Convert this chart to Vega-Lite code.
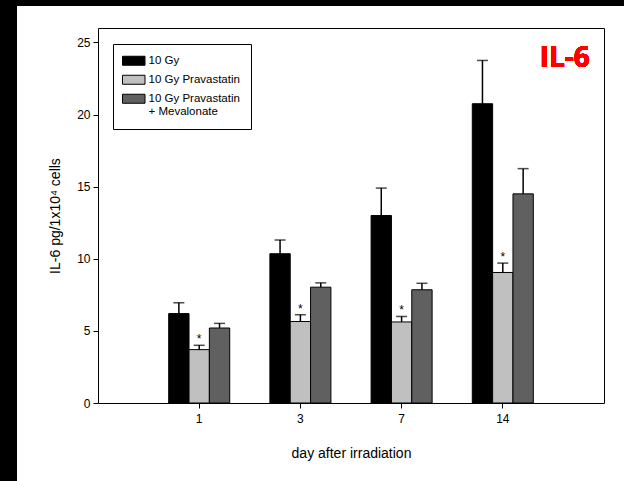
{
  "$schema": "https://vega.github.io/schema/vega-lite/v6.json",
  "width": 607,
  "height": 475,
  "autosize": {"type": "none"},
  "padding": {"left": 17, "top": 6, "right": 0, "bottom": 0},
  "background": "black",
  "config": {
    "view": {"stroke": null, "fill": "white"},
    "font": "Liberation Sans",
    "axis": {"grid": false, "domainColor": "black", "tickColor": "black", "labelColor": "black", "titleColor": "black", "labelFont": "Liberation Sans", "titleFont": "Liberation Sans", "labelFontSize": 12, "titleFontSize": 14, "titleFontWeight": "normal", "domainWidth": 1, "tickWidth": 1}
  },
  "data": {"values": [
    {"day": "1", "group": "10 Gy", "value": 6.2, "upper": 6.95, "sig": ""},
    {"day": "1", "group": "10 Gy Pravastatin", "value": 3.7, "upper": 4.0, "sig": "*"},
    {"day": "1", "group": "10 Gy Pravastatin + Mevalonate", "value": 5.2, "upper": 5.52, "sig": ""},
    {"day": "3", "group": "10 Gy", "value": 10.35, "upper": 11.3, "sig": ""},
    {"day": "3", "group": "10 Gy Pravastatin", "value": 5.65, "upper": 6.12, "sig": "*"},
    {"day": "3", "group": "10 Gy Pravastatin + Mevalonate", "value": 8.03, "upper": 8.33, "sig": ""},
    {"day": "7", "group": "10 Gy", "value": 13.0, "upper": 14.9, "sig": ""},
    {"day": "7", "group": "10 Gy Pravastatin", "value": 5.62, "upper": 6.0, "sig": "*"},
    {"day": "7", "group": "10 Gy Pravastatin + Mevalonate", "value": 7.85, "upper": 8.3, "sig": ""},
    {"day": "14", "group": "10 Gy", "value": 20.75, "upper": 23.75, "sig": ""},
    {"day": "14", "group": "10 Gy Pravastatin", "value": 9.05, "upper": 9.7, "sig": "*"},
    {"day": "14", "group": "10 Gy Pravastatin + Mevalonate", "value": 14.5, "upper": 16.25, "sig": ""}
  ]},
  "resolve": {"axis": {"x": "independent", "y": "independent"}},
  "layer": [
    {
      "mark": {"type": "bar", "stroke": "black", "strokeWidth": 1},
      "encoding": {
        "x": {"field": "day", "type": "nominal", "sort": ["1", "3", "7", "14"],
          "scale": {"range": [81, 587], "paddingInner": 0.397, "paddingOuter": 0.6985},
          "axis": {"orient": "bottom", "offset": -78, "title": "day after irradiation", "labelAngle": 0, "tickSize": 5, "labelPadding": 5, "titlePadding": 22}},
        "xOffset": {"field": "group", "type": "nominal", "sort": ["10 Gy", "10 Gy Pravastatin", "10 Gy Pravastatin + Mevalonate"], "scale": {"paddingInner": 0, "paddingOuter": 0}},
        "y": {"field": "value", "type": "quantitative",
          "scale": {"domain": [0, 26], "range": [397, 22], "nice": false, "zero": true},
          "axis": {"orient": "left", "offset": -81, "values": [0, 5, 10, 15, 20, 25], "title": "IL-6 pg/1x10⁴ cells", "tickSize": 5, "labelPadding": 3, "titlePadding": 14}},
        "color": {"field": "group", "type": "nominal",
          "scale": {"domain": ["10 Gy", "10 Gy Pravastatin", "10 Gy Pravastatin + Mevalonate"], "range": ["#000000", "#c0c0c0", "#606060"]},
          "legend": {"orient": "none", "legendX": 96, "legendY": 38, "title": null, "strokeColor": "black", "fillColor": "white", "padding": 11,
            "symbolType": "M-2.5,-1H2.5V1H-2.5Z", "symbolSize": 81, "symbolOffset": 4, "symbolStrokeColor": "black", "symbolStrokeWidth": 1,
            "labelFont": "Liberation Sans", "labelFontSize": 11.5, "labelColor": "black", "labelOffset": 9, "rowPadding": 5,
            "labelExpr": "datum.label == '10 Gy Pravastatin + Mevalonate' ? ['10 Gy Pravastatin', '+ Mevalonate'] : datum.label"}}
      }
    },
    {
      "mark": {"type": "rule", "color": "black", "strokeWidth": 1.5},
      "encoding": {
        "x": {"field": "day", "type": "nominal", "sort": ["1", "3", "7", "14"],
          "axis": {"orient": "top", "offset": -22, "labels": false, "ticks": false, "title": null, "domain": true}},
        "xOffset": {"field": "group", "type": "nominal", "sort": ["10 Gy", "10 Gy Pravastatin", "10 Gy Pravastatin + Mevalonate"]},
        "y": {"field": "value", "type": "quantitative",
          "axis": {"orient": "right", "offset": -20, "labels": false, "ticks": false, "title": null, "domain": true}},
        "y2": {"field": "upper"}
      }
    },
    {
      "mark": {"type": "tick", "color": "black", "thickness": 1.5, "size": 11},
      "encoding": {
        "x": {"field": "day", "type": "nominal", "sort": ["1", "3", "7", "14"], "axis": null},
        "xOffset": {"field": "group", "type": "nominal", "sort": ["10 Gy", "10 Gy Pravastatin", "10 Gy Pravastatin + Mevalonate"]},
        "y": {"field": "upper", "type": "quantitative", "axis": null}
      }
    },
    {
      "transform": [{"filter": "datum.sig != ''"}],
      "mark": {"type": "text", "color": "black", "fontSize": 12, "baseline": "alphabetic", "dy": -2, "font": "Liberation Sans"},
      "encoding": {
        "x": {"field": "day", "type": "nominal", "sort": ["1", "3", "7", "14"], "axis": null},
        "xOffset": {"field": "group", "type": "nominal", "sort": ["10 Gy", "10 Gy Pravastatin", "10 Gy Pravastatin + Mevalonate"]},
        "y": {"field": "upper", "type": "quantitative", "axis": null},
        "text": {"field": "sig"}
      }
    },
    {
      "mark": {"type": "text", "text": "IL-6", "color": "#ff0000", "font": "Open Sans", "fontSize": 28, "fontWeight": "bold", "align": "right", "baseline": "alphabetic", "dx": 87},
      "encoding": {
        "x": {"datum": "14", "type": "nominal", "axis": null},
        "y": {"datum": 23.3, "type": "quantitative", "axis": null}
      }
    }
  ]
}
